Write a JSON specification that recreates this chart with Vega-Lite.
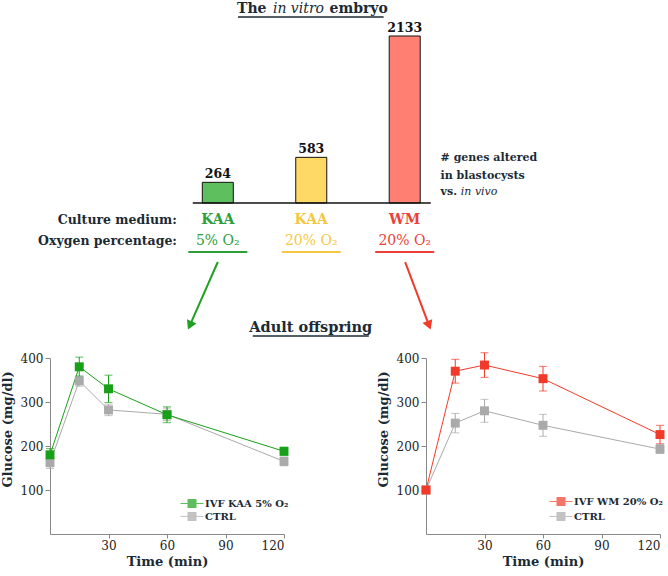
{
  "$schema": "https://vega.github.io/schema/vega-lite/v6.json",
  "padding": 0,
  "background": "white",
  "spacing": 12,
  "resolve": {"scale": {"color": "independent", "fill": "independent"}, "legend": {"color": "independent"}},
  "datasets": {
    "bars": [
      {"idx": 1, "medium": "KAA", "oxygen": "5% O₂", "genes": 264, "cond": "KAA 5%"},
      {"idx": 2, "medium": "KAA", "oxygen": "20% O₂", "genes": 583, "cond": "KAA 20%"},
      {"idx": 3, "medium": "WM", "oxygen": "20% O₂", "genes": 2133, "cond": "WM 20%"}
    ],
    "left": [
      {"group": "CTRL", "t": 0, "g": 162, "lo": 149, "hi": 175},
      {"group": "CTRL", "t": 15, "g": 348, "lo": 336, "hi": 360},
      {"group": "CTRL", "t": 30, "g": 282, "lo": 269, "hi": 295},
      {"group": "CTRL", "t": 60, "g": 272, "lo": 258, "hi": 286},
      {"group": "CTRL", "t": 120, "g": 165, "lo": 155, "hi": 175},
      {"group": "IVF KAA 5% O₂", "t": 0, "g": 180, "lo": 166, "hi": 194},
      {"group": "IVF KAA 5% O₂", "t": 15, "g": 380, "lo": 358, "hi": 402},
      {"group": "IVF KAA 5% O₂", "t": 30, "g": 330, "lo": 299, "hi": 361},
      {"group": "IVF KAA 5% O₂", "t": 60, "g": 271, "lo": 253, "hi": 289},
      {"group": "IVF KAA 5% O₂", "t": 120, "g": 188, "lo": 179, "hi": 197}
    ],
    "right": [
      {"group": "CTRL", "t": 0, "g": 100, "lo": 95, "hi": 105},
      {"group": "CTRL", "t": 15, "g": 252, "lo": 230, "hi": 274},
      {"group": "CTRL", "t": 30, "g": 280, "lo": 254, "hi": 306},
      {"group": "CTRL", "t": 60, "g": 247, "lo": 222, "hi": 272},
      {"group": "CTRL", "t": 120, "g": 193, "lo": 183, "hi": 203},
      {"group": "IVF WM 20% O₂", "t": 0, "g": 100, "lo": 94, "hi": 106},
      {"group": "IVF WM 20% O₂", "t": 15, "g": 370, "lo": 343, "hi": 397},
      {"group": "IVF WM 20% O₂", "t": 30, "g": 384, "lo": 356, "hi": 412},
      {"group": "IVF WM 20% O₂", "t": 60, "g": 353, "lo": 325, "hi": 381},
      {"group": "IVF WM 20% O₂", "t": 120, "g": 226, "lo": 205, "hi": 247}
    ]
  },
  "vconcat": [
    {
      "width": 617,
      "height": 340,
      "layer": [
        {
          "data": {"name": "bars"},
          "mark": {"type": "bar", "orient": "vertical", "width": 31, "stroke": "#111111", "strokeWidth": 1},
          "encoding": {
            "x": {"field": "idx", "type": "quantitative", "scale": {"domain": [-0.742, 5.753], "nice": false, "zero": false}, "axis": null},
            "y": {"field": "genes", "type": "quantitative", "scale": {"domain": [-1750, 2593], "nice": false, "zero": false}, "axis": null},
            "y2": {"datum": 0},
            "fill": {"field": "cond", "type": "nominal", "scale": {"domain": ["KAA 5%", "KAA 20%", "WM 20%"], "range": ["#5dbf5d", "#ffd966", "#ff8073"]}, "legend": null}
          }
        },
        {
          "data": {"values": [{}]},
          "mark": {"type": "rule", "strokeWidth": 1.5, "color": "#111111"},
          "encoding": {"x": {"datum": 0.732}, "x2": {"datum": 3.279}, "y": {"datum": 0}}
        },
        {
          "data": {"name": "bars"},
          "mark": {"type": "text", "font": "DejaVu Serif", "dy": -4, "baseline": "alphabetic", "fontWeight": "bold", "fontSize": 12.5, "color": "#111111"},
          "encoding": {
            "x": {"field": "idx", "type": "quantitative"},
            "y": {"field": "genes", "type": "quantitative"},
            "text": {"field": "genes", "type": "quantitative", "format": "d"}
          }
        },
        {
          "data": {"name": "bars"},
          "mark": {"type": "text", "font": "DejaVu Serif", "fontWeight": "bold", "fontSize": 14, "baseline": "middle"},
          "encoding": {
            "x": {"field": "idx", "type": "quantitative"},
            "y": {"datum": -217},
            "text": {"field": "medium"},
            "color": {"field": "cond", "type": "nominal", "scale": {"domain": ["KAA 5%", "KAA 20%", "WM 20%"], "range": ["#2e9e3a", "#f4c842", "#ec3f3a"]}, "legend": null}
          }
        },
        {
          "data": {"name": "bars"},
          "mark": {"type": "text", "font": "DejaVu Serif", "fontSize": 14, "baseline": "middle"},
          "encoding": {
            "x": {"field": "idx", "type": "quantitative"},
            "y": {"datum": -485},
            "text": {"field": "oxygen"},
            "color": {"field": "cond", "type": "nominal", "legend": null}
          }
        },
        {
          "data": {"name": "bars"},
          "mark": {"type": "tick", "orient": "horizontal", "size": 59, "thickness": 2, "opacity": 1},
          "encoding": {
            "x": {"field": "idx", "type": "quantitative"},
            "y": {"datum": -626},
            "color": {"field": "cond", "type": "nominal", "legend": null}
          }
        },
        {
          "data": {"values": [{}]},
          "mark": {"type": "text", "font": "DejaVu Serif", "text": "Culture medium:", "align": "right", "baseline": "middle", "fontWeight": "bold", "fontSize": 12.5, "color": "#1c2a35"},
          "encoding": {"x": {"datum": 0.563}, "y": {"datum": -217}}
        },
        {
          "data": {"values": [{}]},
          "mark": {"type": "text", "font": "DejaVu Serif", "text": "Oxygen percentage:", "align": "right", "baseline": "middle", "fontWeight": "bold", "fontSize": 12.5, "color": "#1c2a35"},
          "encoding": {"x": {"datum": 0.563}, "y": {"datum": -485}}
        },
        {
          "data": {"values": [{}]},
          "mark": {"type": "text", "font": "DejaVu Serif", "text": "# genes altered", "align": "left", "baseline": "middle", "fontWeight": "bold", "fontSize": 11, "color": "#1c2a35"},
          "encoding": {"x": {"datum": 3.384}, "y": {"datum": 575}}
        },
        {
          "data": {"values": [{}]},
          "mark": {"type": "text", "font": "DejaVu Serif", "text": "in blastocysts", "align": "left", "baseline": "middle", "fontWeight": "bold", "fontSize": 11, "color": "#1c2a35"},
          "encoding": {"x": {"datum": 3.384}, "y": {"datum": 345}}
        },
        {
          "data": {"values": [{}]},
          "mark": {"type": "text", "font": "DejaVu Serif", "text": "vs.", "align": "left", "baseline": "middle", "fontWeight": "bold", "fontSize": 11, "color": "#1c2a35"},
          "encoding": {"x": {"datum": 3.384}, "y": {"datum": 140}}
        },
        {
          "data": {"values": [{}]},
          "mark": {"type": "text", "font": "DejaVu Serif", "text": "in vivo", "align": "left", "baseline": "middle", "fontStyle": "italic", "fontSize": 11, "color": "#1c2a35"},
          "encoding": {"x": {"datum": 3.6}, "y": {"datum": 140}}
        },
        {
          "data": {"values": [{}]},
          "mark": {"type": "text", "font": "DejaVu Serif", "text": "The", "align": "right", "baseline": "middle", "fontWeight": "bold", "fontSize": 14, "color": "#1c2a35"},
          "encoding": {"x": {"datum": 1.521}, "y": {"datum": 2478}}
        },
        {
          "data": {"values": [{}]},
          "mark": {"type": "text", "font": "DejaVu Serif", "text": "in vitro", "align": "center", "baseline": "middle", "fontStyle": "italic", "fontSize": 14, "color": "#1c2a35"},
          "encoding": {"x": {"datum": 1.863}, "y": {"datum": 2478}}
        },
        {
          "data": {"values": [{}]},
          "mark": {"type": "text", "font": "DejaVu Serif", "text": "embryo", "align": "left", "baseline": "middle", "fontWeight": "bold", "fontSize": 14, "color": "#1c2a35"},
          "encoding": {"x": {"datum": 2.195}, "y": {"datum": 2478}}
        },
        {
          "data": {"values": [{}]},
          "mark": {"type": "rule", "strokeWidth": 1.5, "color": "#1c2a35"},
          "encoding": {"x": {"datum": 1.216}, "x2": {"datum": 2.774}, "y": {"datum": 2376}}
        },
        {
          "data": {"values": [{}]},
          "mark": {"type": "text", "font": "DejaVu Serif", "text": "Adult offspring", "align": "center", "baseline": "middle", "fontWeight": "bold", "fontSize": 14.5, "color": "#1c2a35"},
          "encoding": {"x": {"datum": 1.995}, "y": {"datum": -1597}}
        },
        {
          "data": {"values": [{}]},
          "mark": {"type": "rule", "strokeWidth": 1.5, "color": "#1c2a35"},
          "encoding": {"x": {"datum": 1.374}, "x2": {"datum": 2.616}, "y": {"datum": -1699}}
        },
        {
          "data": {"values": [{}]},
          "mark": {"type": "rule", "strokeWidth": 2, "color": "#20a020"},
          "encoding": {"x": {"datum": 1.0}, "x2": {"datum": 0.701}, "y": {"datum": -754}, "y2": {"datum": -1564}}
        },
        {
          "data": {"values": [{}]},
          "mark": {"type": "point", "shape": "triangle-down", "angle": 24.4, "size": 110, "filled": true, "opacity": 1, "color": "#20a020"},
          "encoding": {"x": {"datum": 0.701}, "y": {"datum": -1564}}
        },
        {
          "data": {"values": [{}]},
          "mark": {"type": "rule", "strokeWidth": 2, "color": "#ef3b2c"},
          "encoding": {"x": {"datum": 3.005}, "x2": {"datum": 3.26}, "y": {"datum": -754}, "y2": {"datum": -1563}}
        },
        {
          "data": {"values": [{}]},
          "mark": {"type": "point", "shape": "triangle-down", "angle": 338.5, "size": 110, "filled": true, "opacity": 1, "color": "#ef3b2c"},
          "encoding": {"x": {"datum": 3.26}, "y": {"datum": -1563}}
        }
      ]
    },
    {
      "spacing": 87,
      "resolve": {"scale": {"color": "independent"}, "legend": {"color": "independent"}},
      "hconcat": [
        {
          "width": 234,
          "height": 176,
          "data": {"name": "left"},
          "encoding": {
            "x": {"field": "t", "type": "quantitative", "scale": {"domain": [0, 120]}, "axis": {"values": [30, 60, 90, 120], "title": "Time (min)", "tickSize": 4, "labelPadding": 2, "titlePadding": 4}},
            "color": {
              "field": "group", "type": "nominal",
              "scale": {"domain": ["IVF KAA 5% O₂", "CTRL"], "range": ["#18a018", "#aaaaaa"]},
              "legend": {"title": null, "orient": "none", "legendX": 137, "legendY": 140.5, "symbolType": "M-2.55,-0.11H2.55V0.11H-2.55Z M-1,-1H1V1H-1Z", "symbolSize": 81, "symbolStrokeWidth": 0, "labelOffset": 8, "rowPadding": 3, "padding": 0}
            }
          },
          "layer": [
            {
              "mark": {"type": "errorbar", "ticks": {"size": 8}, "thickness": 1},
              "encoding": {
                "y": {"field": "lo", "type": "quantitative", "scale": {"domain": [0, 400]}, "axis": {"values": [100, 200, 300, 400], "title": "Glucose (mg/dl)", "minExtent": 30, "maxExtent": 30, "titlePadding": 6, "titleY": 71}},
                "y2": {"field": "hi"}
              }
            },
            {
              "mark": {"type": "line", "strokeWidth": 1},
              "encoding": {"y": {"field": "g", "type": "quantitative", "axis": {"values": [100, 200, 300, 400], "title": "Glucose (mg/dl)", "minExtent": 30, "maxExtent": 30, "titlePadding": 6, "titleY": 71}}}
            },
            {
              "mark": {"type": "point", "shape": "square", "filled": true, "size": 80, "opacity": 1},
              "encoding": {"y": {"field": "g", "type": "quantitative", "axis": {"values": [100, 200, 300, 400], "title": "Glucose (mg/dl)", "minExtent": 30, "maxExtent": 30, "titlePadding": 6, "titleY": 71}}}
            }
          ]
        },
        {
          "width": 234,
          "height": 176,
          "data": {"name": "right"},
          "encoding": {
            "x": {"field": "t", "type": "quantitative", "scale": {"domain": [0, 120]}, "axis": {"values": [30, 60, 90, 120], "title": "Time (min)", "tickSize": 4, "labelPadding": 2, "titlePadding": 4}},
            "color": {
              "field": "group", "type": "nominal",
              "scale": {"domain": ["IVF WM 20% O₂", "CTRL"], "range": ["#f23a2a", "#aaaaaa"]},
              "legend": {"title": null, "orient": "none", "legendX": 130, "legendY": 138.5, "symbolType": "M-2.55,-0.11H2.55V0.11H-2.55Z M-1,-1H1V1H-1Z", "symbolSize": 81, "symbolStrokeWidth": 0, "labelOffset": 8, "rowPadding": 5, "padding": 0}
            }
          },
          "layer": [
            {
              "mark": {"type": "errorbar", "ticks": {"size": 8}, "thickness": 1},
              "encoding": {
                "y": {"field": "lo", "type": "quantitative", "scale": {"domain": [0, 400]}, "axis": {"values": [100, 200, 300, 400], "title": "Glucose (mg/dl)", "minExtent": 30, "maxExtent": 30, "titlePadding": 6, "titleY": 71}},
                "y2": {"field": "hi"}
              }
            },
            {
              "mark": {"type": "line", "strokeWidth": 1},
              "encoding": {"y": {"field": "g", "type": "quantitative", "axis": {"values": [100, 200, 300, 400], "title": "Glucose (mg/dl)", "minExtent": 30, "maxExtent": 30, "titlePadding": 6, "titleY": 71}}}
            },
            {
              "mark": {"type": "point", "shape": "square", "filled": true, "size": 80, "opacity": 1},
              "encoding": {"y": {"field": "g", "type": "quantitative", "axis": {"values": [100, 200, 300, 400], "title": "Glucose (mg/dl)", "minExtent": 30, "maxExtent": 30, "titlePadding": 6, "titleY": 71}}}
            }
          ]
        }
      ]
    }
  ],
  "config": {
    "view": {"stroke": null},
    "font": "DejaVu Serif",
    "mark": {"font": "DejaVu Serif"},
    "axis": {
      "grid": false,
      "domainColor": "#888888",
      "tickColor": "#888888",
      "tickSize": 5,
      "labelFont": "DejaVu Serif",
      "labelFontSize": 12,
      "labelColor": "#222222",
      "labelPadding": 2,
      "titleFont": "DejaVu Serif",
      "titleFontSize": 13,
      "titleFontWeight": "bold",
      "titleColor": "#1c2a35"
    },
    "legend": {
      "labelFont": "DejaVu Serif",
      "labelFontSize": 10,
      "labelFontWeight": "bold",
      "labelColor": "#1c2a35"
    }
  }
}
